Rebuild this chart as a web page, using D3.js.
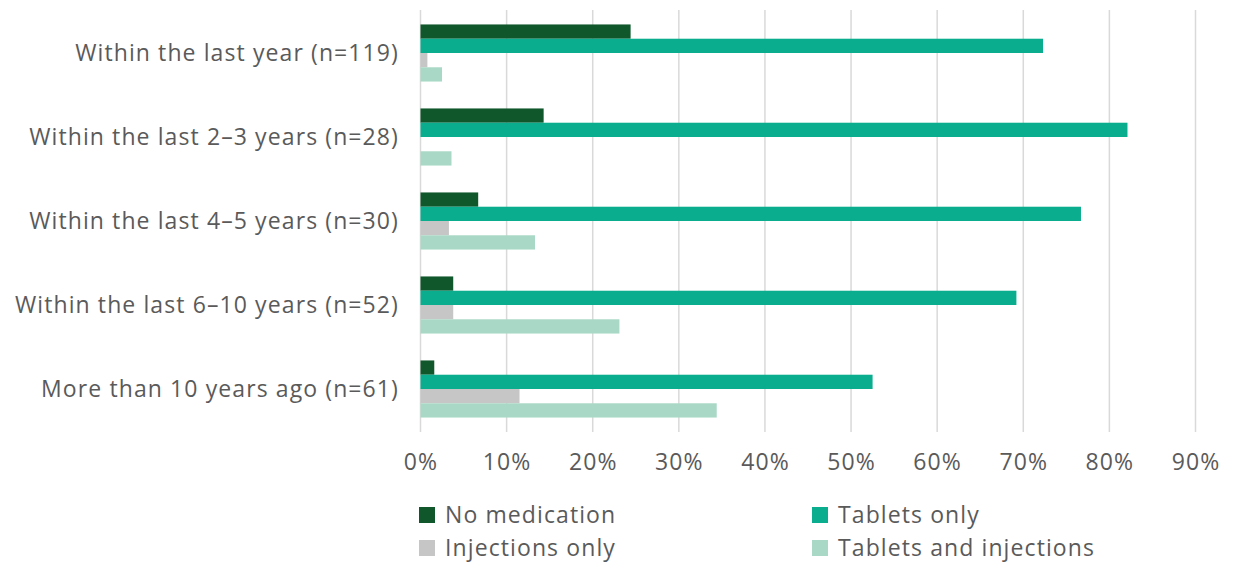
<!DOCTYPE html>
<html><head><meta charset="utf-8">
<script src="https://cdn.jsdelivr.net/npm/d3@7"></script>
<style>body{margin:0;background:#fff}svg{display:block}text{font-family:"Open Sans",Lato,sans-serif;fill:#5a5a5a}</style>
</head><body><svg id="c" width="1235" height="563"></svg>
<script>
const categories = ["Within the last year (n=119)","Within the last 2–3 years (n=28)","Within the last 4–5 years (n=30)","Within the last 6–10 years (n=52)","More than 10 years ago (n=61)"];
const seriesNames = ["No medication","Tablets only","Injections only","Tablets and injections"];
const noMedication = [24.4, 14.3, 6.7, 3.8, 1.6];
const tabletsOnly = [72.3, 82.1, 76.7, 69.2, 52.5];
const injectionsOnly = [0.8, 0, 3.3, 3.8, 11.5];
const tabletsAndInjections = [2.5, 3.6, 13.3, 23.1, 34.4];
const tickValues = [0,10,20,30,40,50,60,70,80,90];
const colors = ["#10572c","#0bad8f","#c6c6c6","#a9d9c6"];
const series = [noMedication, tabletsOnly, injectionsOnly, tabletsAndInjections];

const FS = "23px", LS = "1.1px";
const svg = d3.select("#c");
const x = d3.scaleLinear().domain([0,90]).range([420.5, 1195.5]);
const y = d3.scaleBand().domain(categories).range([11, 431]).paddingInner(0.32).paddingOuter(0.16);
const sub = d3.scaleBand().domain(seriesNames).range([0, y.bandwidth()]);

svg.append("g").selectAll("line").data(tickValues).join("line")
  .attr("x1", d=>x(d)).attr("x2", d=>x(d)).attr("y1", 10).attr("y2", 432)
  .attr("stroke", "#d9d9d9").attr("stroke-width", 1.5);

const g = svg.append("g");
categories.forEach((c, i) => {
  series.forEach((s, j) => {
    g.append("rect")
      .attr("x", x(0)).attr("y", y(c) + sub(seriesNames[j]))
      .attr("width", x(s[i]) - x(0)).attr("height", sub.bandwidth())
      .attr("fill", colors[j]);
  });
});

svg.append("g").selectAll("text").data(categories).join("text")
  .attr("x", 399).attr("y", d => y(d) + y.bandwidth()/2)
  .attr("dy", "0.35em").attr("text-anchor", "end")
  .style("font-size", FS).style("letter-spacing", LS).text(d => d);

const xa = svg.append("g").attr("transform", "translate(0,432)")
  .call(d3.axisBottom(x).tickValues(tickValues).tickFormat(d => d + "%").tickSize(0).tickPadding(22));
xa.select(".domain").remove();
xa.selectAll("text").style("font-size", FS).style("letter-spacing", LS).attr("fill", "#5a5a5a").style("font-family", "'Open Sans', Lato, sans-serif");

const legPos = [[419, 515],[812, 515],[419, 548],[812, 548]];
const leg = svg.append("g");
seriesNames.forEach((n, j) => {
  const [lx, ly] = legPos[j];
  leg.append("rect").attr("x", lx).attr("y", ly - 8).attr("width", 16).attr("height", 16).attr("fill", colors[j]);
  leg.append("text").attr("x", lx + 26).attr("y", ly).attr("dy", "0.35em").style("font-size", FS).style("letter-spacing", LS).text(n);
});
</script></body></html>
